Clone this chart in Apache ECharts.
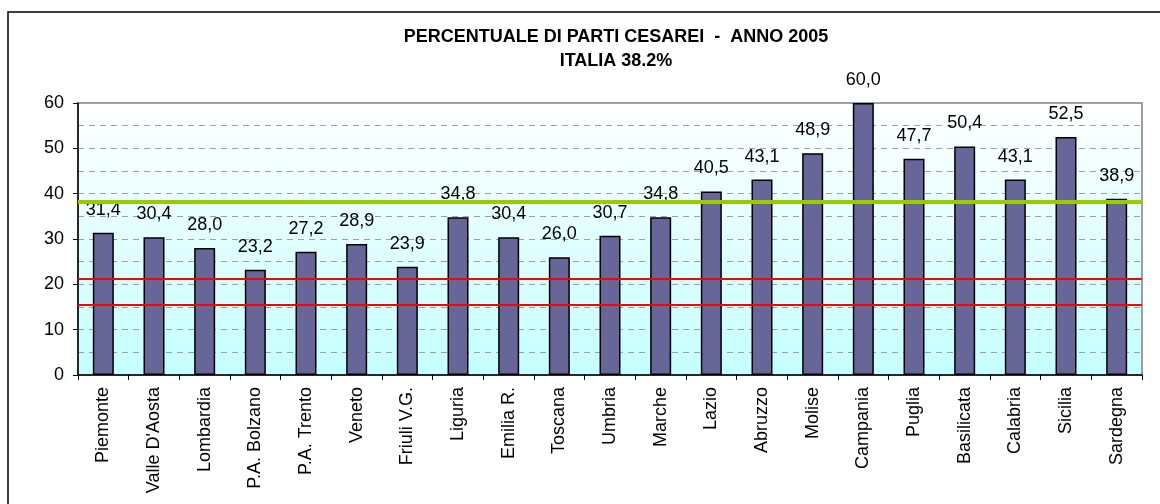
<!DOCTYPE html>
<html>
<head>
<meta charset="utf-8">
<script src="https://cdn.jsdelivr.net/npm/echarts@6/dist/echarts.min.js"></script>
<style>
  html, body { margin: 0; padding: 0; background: #fff; }
  #chart { width: 1160px; height: 504px; }
</style>
</head>
<body>
<div id="chart"></div>
<script>
var regioni = ['Piemonte', "Valle D'Aosta", 'Lombardia', 'P.A. Bolzano', 'P.A. Trento', 'Veneto', 'Friuli V.G.',
    'Liguria', 'Emilia R.', 'Toscana', 'Umbria', 'Marche', 'Lazio', 'Abruzzo', 'Molise', 'Campania',
    'Puglia', 'Basilicata', 'Calabria', 'Sicilia', 'Sardegna']
var percentuali = [31.4, 30.4, 28.0, 23.2, 27.2, 28.9, 23.9, 34.8, 30.4, 26.0, 30.7, 34.8, 40.5, 43.1, 48.9, 60.0,
    47.7, 50.4, 43.1, 52.5, 38.9]
var mediaItalia = 38.2
var soglie = [21.2, 15.4]

var chart = echarts.init(document.getElementById('chart'))
var font = 'Liberation Sans, Arial, sans-serif'

var linee = [{ yAxis: mediaItalia, lineStyle: { color: '#99CC00', width: 4, type: 'solid' } }]
soglie.forEach(function (v) {
    linee.push({ yAxis: v, lineStyle: { color: '#FF0000', width: 2, type: 'solid' } })
})

var option = {
    animation: false,
    backgroundColor: '#fff',
    textStyle: { fontFamily: font },
    graphic: [{
        type: 'rect',
        shape: { x: 8, y: 12, width: 1200, height: 600 },
        style: { fill: 'none', stroke: '#000', lineWidth: 1.5 },
        z: -1
    }],
    title: {
        text: 'PERCENTUALE DI PARTI CESAREI  -  ANNO 2005\nITALIA 38.2%',
        left: 611,
        textAlign: 'center',
        top: 20,
        textStyle: { fontFamily: font, fontSize: 18, fontWeight: 'bold', color: '#000', lineHeight: 24 }
    },
    grid: {
        left: 78, top: 103, right: 18, bottom: 129,
        show: true,
        borderColor: '#808080',
        borderWidth: 1.5,
        backgroundColor: new echarts.graphic.LinearGradient(0, 0, 0, 1, [
            { offset: 0, color: '#FFFFFF' },
            { offset: 1, color: '#C4FFFF' }
        ])
    },
    xAxis: {
        type: 'category',
        data: regioni,
        axisLine: { lineStyle: { color: '#000', width: 1.5 } },
        axisTick: { show: true, length: 5, lineStyle: { color: '#000' } },
        axisLabel: { rotate: 90, fontSize: 18, color: '#000', margin: 12, fontFamily: font, interval: 0 }
    },
    yAxis: {
        type: 'value',
        min: 0, max: 60, interval: 10,
        axisLine: { show: true, lineStyle: { color: '#000', width: 1.5 } },
        axisTick: { show: true, length: 5, lineStyle: { color: '#000' } },
        axisLabel: { fontSize: 18, color: '#000', margin: 14, fontFamily: font },
        splitLine: { show: true, lineStyle: { color: '#A0A0A0', type: [6, 5], width: 1 } },
        minorTick: { show: false, splitNumber: 2 },
        minorSplitLine: { show: true, lineStyle: { color: '#A0A0A0', type: [6, 5], width: 1 } }
    },
    series: [{
        type: 'bar',
        data: percentuali,
        barWidth: 21,
        itemStyle: { color: '#666699', borderColor: '#000', borderWidth: 1.5 },
        label: {
            show: true, position: 'top', distance: 14,
            fontSize: 18, color: '#000', fontFamily: font,
            formatter: function (p) { return p.value.toFixed(1).replace('.', ',') }
        },
        markLine: {
            silent: true,
            symbol: 'none',
            label: { show: false },
            data: linee
        }
    }]
}
chart.setOption(option)
</script>
</body>
</html>
